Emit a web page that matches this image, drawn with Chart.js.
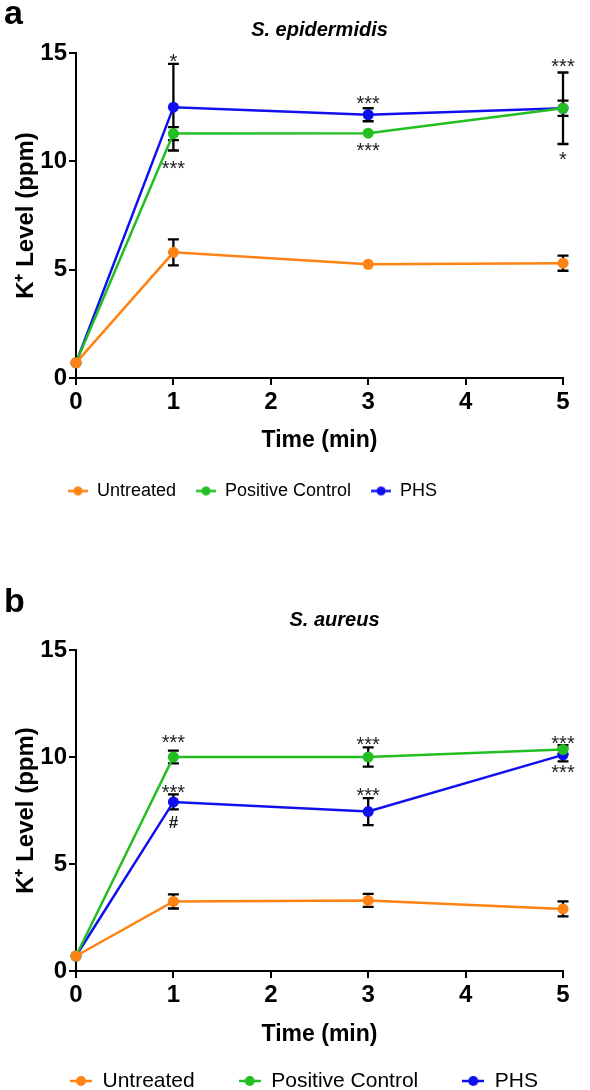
<!DOCTYPE html>
<html><head><meta charset="utf-8">
<script src="https://cdn.jsdelivr.net/npm/chart.js@4/dist/chart.umd.min.js"></script>
<style>
html,body{margin:0;padding:0;background:#fff;width:590px;height:1090px;overflow:hidden;position:relative;}
.panel{position:absolute;left:0;width:590px;}
.lbl{position:absolute;left:4px;font:bold 34px "Liberation Sans",Arial,sans-serif;line-height:34px;color:#000;z-index:5;}
</style></head><body>
<div class="panel" style="top:0;height:530px"><canvas id="c1" width="590" height="530"></canvas></div>
<div class="panel" style="top:560px;height:570px"><canvas id="c2" width="590" height="570"></canvas></div>
<div class="lbl" style="top:-5px">a</div>
<div class="lbl" style="top:583px">b</div>
<script>
// ---- data ----
const timePoints = [0, 1, 3, 5];
const xTicks = [0, 1, 2, 3, 4, 5];
const yTicks = [0, 5, 10, 15];
const seriesNames = ['Untreated', 'Positive Control', 'PHS'];

// S. epidermidis
const epiUntreated    = [0.7, 5.8, 5.25, 5.3];
const epiUntreatedErr = [0, 0.6, 0, 0.35];
const epiPositive     = [0.7, 11.28, 11.3, 12.45];
const epiPositiveErr  = [0, 0.3, 0, 0.35];
const epiPHS          = [0.7, 12.5, 12.15, 12.45];
const epiPHSErr       = [0, 2.0, 0.3, 1.65];
const epiMarkX    = [1, 1, 3, 3, 5, 5];
const epiMarkY    = [14.77, 9.82, 12.84, 10.64, 14.54, 10.23];
const epiMarkText = ['*', '***', '***', '***', '***', '*'];

// S. aureus
const aurUntreated    = [0.7, 3.25, 3.3, 2.9];
const aurUntreatedErr = [0, 0.33, 0.3, 0.35];
const aurPositive     = [0.7, 10.0, 10.0, 10.35];
const aurPositiveErr  = [0, 0.3, 0.45, 0.2];
const aurPHS          = [0.7, 7.9, 7.45, 10.1];
const aurPHSErr       = [0, 0.35, 0.63, 0.3];
const aurMarkX    = [1, 1, 1, 3, 3, 5, 5];
const aurMarkY    = [10.84, 8.5, 6.96, 10.75, 8.36, 10.78, 9.44];
const aurMarkText = ['***', '***', '#', '***', '***', '***', '***'];

// ---- style ----
const FF = '"Liberation Sans", Arial, sans-serif';
const colors = ['#FF8214', '#22BE22', '#1010EE'];

function markerImage(color, w, r) {
  const c = document.createElement('canvas');
  c.width = w; c.height = 2 * r + 2;
  const g = c.getContext('2d');
  g.strokeStyle = color; g.fillStyle = color; g.lineWidth = 2.5;
  g.beginPath(); g.moveTo(0, c.height / 2); g.lineTo(w, c.height / 2); g.stroke();
  g.beginPath(); g.arc(w / 2, c.height / 2, r, 0, Math.PI * 2); g.fill();
  return c;
}

const overlay = {
  id: 'overlay',
  afterLayout(chart, args, o) {
    const lg = chart.legend;
    if (lg) {
      const w = lg.width, h = lg.height;
      lg.left = o.legendLeft; lg.right = lg.left + w;
      lg.top = o.legendTop; lg.bottom = lg.top + h;
    }
    const t = chart.titleBlock;
    if (t && o.titleShift) { t.left += o.titleShift; t.right += o.titleShift; }
  },
  beforeDatasetsDraw(chart) {
    const {ctx, scales: {x, y}} = chart;
    ctx.save();
    ctx.strokeStyle = '#000'; ctx.lineWidth = 2.3;
    chart.data.datasets.forEach(ds => {
      ds.data.forEach((p, j) => {
        const e = ds.errorBars[j];
        if (!e) return;
        const px = x.getPixelForValue(p.x);
        const y1 = y.getPixelForValue(p.y + e), y2 = y.getPixelForValue(p.y - e);
        ctx.beginPath();
        ctx.moveTo(px, y1); ctx.lineTo(px, y2);
        ctx.moveTo(px - 5.5, y1); ctx.lineTo(px + 5.5, y1);
        ctx.moveTo(px - 5.5, y2); ctx.lineTo(px + 5.5, y2);
        ctx.stroke();
      });
    });
    ctx.restore();
  },
  afterDatasetsDraw(chart, args, o) {
    const {ctx, scales: {x, y}} = chart;
    ctx.save();
    ctx.fillStyle = '#222';
    ctx.textAlign = 'center';
    ctx.textBaseline = 'alphabetic';
    o.markX.forEach((mx, i) => {
      const txt = o.markText[i];
      ctx.font = txt === '#' ? 'bold 17px ' + FF : '20px ' + FF;
      const m = ctx.measureText(txt);
      const px = x.getPixelForValue(mx);
      const py = y.getPixelForValue(o.markY[i]);
      ctx.fillText(txt, px, py + (m.actualBoundingBoxAscent - m.actualBoundingBoxDescent) / 2);
    });
    ctx.restore();
  }
};

function makeChart(id, cfg) {
  const markers = colors.map(c => markerImage(c, cfg.boxW, cfg.markR));
  return new Chart(document.getElementById(id), {
    type: 'line',
    data: {
      datasets: cfg.series.map((s, k) => ({
        label: seriesNames[k],
        data: timePoints.map((t, j) => ({x: t, y: s[0][j]})),
        errorBars: s[1],
        borderColor: colors[k],
        backgroundColor: colors[k],
        pointBackgroundColor: colors[k],
        pointBorderWidth: 0,
        pointRadius: 5.5,
        pointHoverRadius: 5.5,
        borderWidth: 2.5,
        tension: 0,
        clip: false
      }))
    },
    options: {
      responsive: false,
      animation: false,
      events: [],
      layout: {padding: {left: 0, right: 27, top: 0, bottom: cfg.pb}},
      scales: {
        x: {
          type: 'linear', min: 0, max: 5,
          afterBuildTicks: s => { s.ticks = xTicks.map(v => ({value: v})); },
          afterFit: s => { s.height = cfg.xH; },
          ticks: {font: {family: FF, size: 24, weight: 'bold'}, color: '#000', padding: 3, maxRotation: 0, autoSkip: false},
          grid: {display: true, drawOnChartArea: false, drawTicks: true, tickLength: 7, color: '#000', lineWidth: 2},
          border: {display: true, color: '#000', width: 2},
          title: {display: true, text: 'Time (min)', color: '#000', font: {family: FF, size: 23, weight: 'bold'}, padding: {top: 0, bottom: 4}}
        },
        y: {
          type: 'linear', min: 0, max: 15,
          afterBuildTicks: s => { s.ticks = yTicks.map(v => ({value: v})); },
          afterFit: s => { s.width = 76; },
          ticks: {font: {family: FF, size: 24, weight: 'bold'}, color: '#000', padding: 2},
          grid: {display: true, drawOnChartArea: false, drawTicks: true, tickLength: 7, color: '#000', lineWidth: 2},
          border: {display: true, color: '#000', width: 2},
          title: {display: true, text: 'K⁺ Level (ppm)', color: '#000', font: {family: FF, size: 24, weight: 'bold'}, padding: {top: 12, bottom: 0}}
        }
      },
      plugins: {
        title: {display: true, fullSize: false, text: cfg.title, color: '#000',
          font: {family: FF, size: 20, weight: 'bold', style: 'italic'},
          padding: {top: cfg.tTop, bottom: cfg.tBot}},
        legend: {
          display: true, position: 'bottom', align: 'start',
          labels: {
            usePointStyle: true, pointStyleWidth: cfg.boxW, color: '#000',
            font: {family: FF, size: cfg.legFont}, padding: cfg.legPad,
            generateLabels: chart => {
              const items = Chart.defaults.plugins.legend.labels.generateLabels(chart);
              items.forEach(it => { it.pointStyle = markers[it.datasetIndex]; });
              return items;
            }
          }
        },
        tooltip: {enabled: false},
        overlay: {markX: cfg.markX, markY: cfg.markY, markText: cfg.markText,
          legendLeft: cfg.legLeft, legendTop: cfg.legTop, titleShift: cfg.titleShift}
      }
    },
    plugins: [overlay]
  });
}

makeChart('c1', {
  title: 'S. epidermidis',
  series: [[epiUntreated, epiUntreatedErr], [epiPositive, epiPositiveErr], [epiPHS, epiPHSErr]],
  markX: epiMarkX, markY: epiMarkY, markText: epiMarkText,
  tTop: 18, tBot: 11, xH: 80, pb: 24,
  legFont: 18, legPad: 20, boxW: 20, markR: 4.5,
  legLeft: 48, legTop: 462, titleShift: 0
});
makeChart('c2', {
  title: 'S. aureus',
  series: [[aurUntreated, aurUntreatedErr], [aurPositive, aurPositiveErr], [aurPHS, aurPHSErr]],
  markX: aurMarkX, markY: aurMarkY, markText: aurMarkText,
  tTop: 48, tBot: 18, xH: 81, pb: 3,
  legFont: 21, legPad: 44, boxW: 22, markR: 5,
  legLeft: 26, legTop: 466.5, titleShift: 15
});
</script>
</body></html>
